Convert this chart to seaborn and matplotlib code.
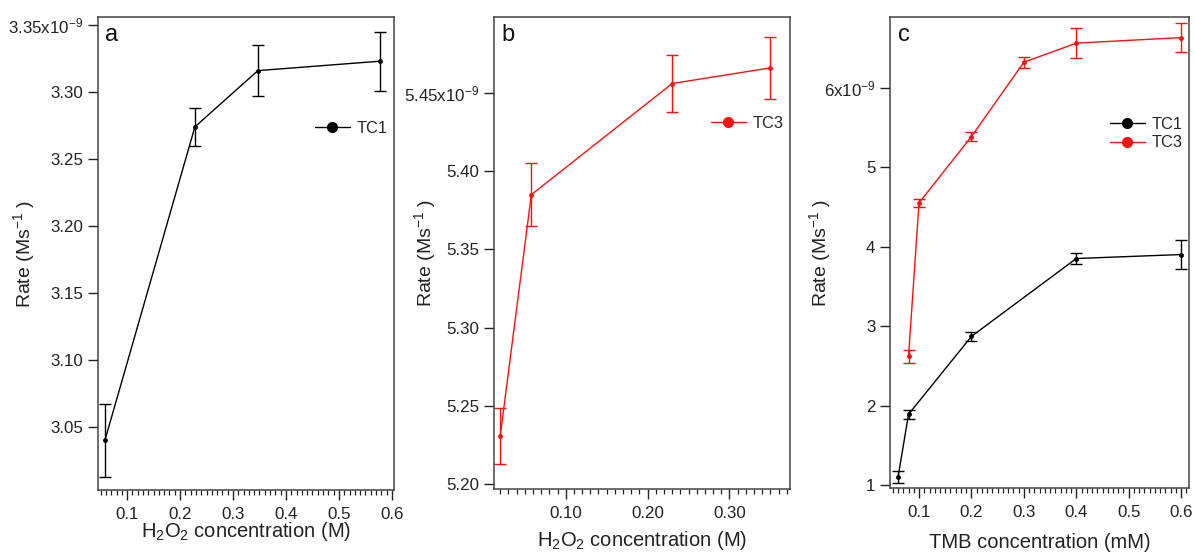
import numpy as np
import pandas as pd
import seaborn as sns
import matplotlib
matplotlib.use("Agg")
import matplotlib.pyplot as plt
from matplotlib.lines import Line2D
from matplotlib.ticker import FixedLocator, MultipleLocator, FuncFormatter

# ---- data (rates in units of 1e-9 M s^-1) ----
h2o2_a = [0.058, 0.228, 0.347, 0.577]
rate_a_tc1 = [3.040, 3.274, 3.316, 3.323]
err_a_tc1 = [0.027, 0.014, 0.019, 0.022]

h2o2_b = [0.020, 0.058, 0.230, 0.350]
rate_b_tc3 = [5.231, 5.385, 5.456, 5.466]
err_b_tc3 = [0.018, 0.020, 0.018, 0.020]

tmb_tc1 = [0.06, 0.08, 0.2, 0.4, 0.6]
rate_c_tc1 = [1.10, 1.89, 2.87, 3.85, 3.90]
err_c_tc1 = [0.07, 0.055, 0.06, 0.07, 0.185]

tmb_tc3 = [0.08, 0.1, 0.2, 0.3, 0.4, 0.6]
rate_c_tc3 = [2.62, 4.55, 5.385, 6.32, 6.56, 6.63]
err_c_tc3 = [0.08, 0.05, 0.06, 0.07, 0.185, 0.18]

yticks_a = [3.05, 3.10, 3.15, 3.20, 3.25, 3.30, 3.35]
yticks_b = [5.20, 5.25, 5.30, 5.35, 5.40, 5.45]
yticks_c = [1, 2, 3, 4, 5, 6]
xticks_a = [0.1, 0.2, 0.3, 0.4, 0.5, 0.6]
xticks_b = [0.10, 0.20, 0.30]
xticks_c = [0.1, 0.2, 0.3, 0.4, 0.5, 0.6]

BLACK = "#000000"
RED = "#ff1010"

sns.set_style("ticks")
plt.rcParams["font.family"] = ["Liberation Sans", "DejaVu Sans"]
plt.rcParams["mathtext.fontset"] = "custom"
plt.rcParams["mathtext.rm"] = "Liberation Sans"
plt.rcParams["mathtext.it"] = "Liberation Sans"
plt.rcParams["axes.edgecolor"] = "#444444"
plt.rcParams["xtick.color"] = "#222222"
plt.rcParams["ytick.color"] = "#222222"

fig = plt.figure(figsize=(11.95, 5.54), dpi=100)
ax_a = fig.add_axes([0.082, 0.1155, 0.2477, 0.8538])
ax_b = fig.add_axes([0.4134, 0.1173, 0.2477, 0.852])
ax_c = fig.add_axes([0.7448, 0.1191, 0.2502, 0.8502])


def draw(ax, x, y, e, color):
    df = pd.DataFrame({"x": x, "y": y})
    sns.lineplot(data=df, x="x", y="y", ax=ax, color=color, linewidth=1.0,
                 marker="o", markersize=3.5, markeredgewidth=0, estimator=None,
                 sort=False, legend=False)
    ax.errorbar(x, y, yerr=e, fmt="none", ecolor=color, elinewidth=1.0,
                capsize=4.3, capthick=1.0)


def top_fmt(top, fmtstr):
    def f(v, pos):
        s = fmtstr.format(v)
        if abs(v - top) < 1e-9:
            s = s + "x10$^{-9}$"
        return s
    return FuncFormatter(f)


draw(ax_a, h2o2_a, rate_a_tc1, err_a_tc1, BLACK)
draw(ax_b, h2o2_b, rate_b_tc3, err_b_tc3, RED)
draw(ax_c, tmb_tc1, rate_c_tc1, err_c_tc1, BLACK)
draw(ax_c, tmb_tc3, rate_c_tc3, err_c_tc3, RED)

ax_a.set_xlim(0.045, 0.604)
ax_a.set_ylim(3.003, 3.356)
ax_b.set_xlim(0.0124, 0.374)
ax_b.set_ylim(5.197, 5.4985)
ax_c.set_xlim(0.0447, 0.615)
ax_c.set_ylim(0.962, 6.889)

ax_a.yaxis.set_major_locator(FixedLocator(yticks_a))
ax_a.yaxis.set_major_formatter(top_fmt(3.35, "{:.2f}"))
ax_b.yaxis.set_major_locator(FixedLocator(yticks_b))
ax_b.yaxis.set_major_formatter(top_fmt(5.45, "{:.2f}"))
ax_c.yaxis.set_major_locator(FixedLocator(yticks_c))
ax_c.yaxis.set_major_formatter(top_fmt(6, "{:.0f}"))

ax_a.xaxis.set_major_locator(FixedLocator(xticks_a))
ax_a.xaxis.set_major_formatter(FuncFormatter(lambda v, p: f"{v:.1f}"))
ax_b.xaxis.set_major_locator(FixedLocator(xticks_b))
ax_b.xaxis.set_major_formatter(FuncFormatter(lambda v, p: f"{v:.2f}"))
ax_c.xaxis.set_major_locator(FixedLocator(xticks_c))
ax_c.xaxis.set_major_formatter(FuncFormatter(lambda v, p: f"{v:.1f}"))

for ax, letter in [(ax_a, "a"), (ax_b, "b"), (ax_c, "c")]:
    ax.xaxis.set_minor_locator(MultipleLocator(0.01))
    ax.tick_params(axis="both", which="major", direction="out", length=7,
                   width=1.0, labelsize=12.2, colors="#222222")
    ax.tick_params(axis="x", which="major", pad=5)
    ax.tick_params(axis="x", which="minor", direction="out", length=3.5,
                   width=0.9, colors="#222222")
    ax.tick_params(axis="y", which="minor", left=False)
    for sp in ax.spines.values():
        sp.set_visible(True)
        sp.set_linewidth(1.1)
        sp.set_color("#444444")
    ax.set_ylabel("Rate (Ms$^{-1}$ )", fontsize=14, color="#222222")
    ax.text(0.025, 0.985, letter, transform=ax.transAxes, fontsize=17,
            va="top", ha="left", color="#111111")

ax_a.set_xlabel("H$_2$O$_2$ concentration (M)", fontsize=14.5, color="#222222")
ax_b.set_xlabel("H$_2$O$_2$ concentration (M)", fontsize=14.5, color="#222222")
ax_c.set_xlabel("TMB concentration (mM)", fontsize=14.5, color="#222222")

ax_a.yaxis.set_label_coords(-0.205, 0.5)
ax_b.yaxis.set_label_coords(-0.19, 0.5)
ax_c.yaxis.set_label_coords(-0.19, 0.5)
ax_a.xaxis.set_label_coords(0.5, -0.063)
ax_b.xaxis.set_label_coords(0.5, -0.085)
ax_c.xaxis.set_label_coords(0.5, -0.095)


def handle(color):
    return Line2D([], [], color=color, linewidth=1.0, marker="o",
                  markersize=8, markeredgewidth=0)


leg_kw = dict(frameon=False, fontsize=11.8, handlelength=2.1, handletextpad=0.4,
              labelspacing=0.2, borderaxespad=0.2)
ax_a.legend([handle(BLACK)], ["TC1"], loc="center right",
            bbox_to_anchor=(1.01, 0.765), **leg_kw)
ax_b.legend([handle(RED)], ["TC3"], loc="center right",
            bbox_to_anchor=(1.01, 0.775), **leg_kw)
ax_c.legend([handle(BLACK), handle(RED)], ["TC1", "TC3"], loc="center right",
            bbox_to_anchor=(1.01, 0.752), **leg_kw)

fig.savefig("out.png", dpi=100)
